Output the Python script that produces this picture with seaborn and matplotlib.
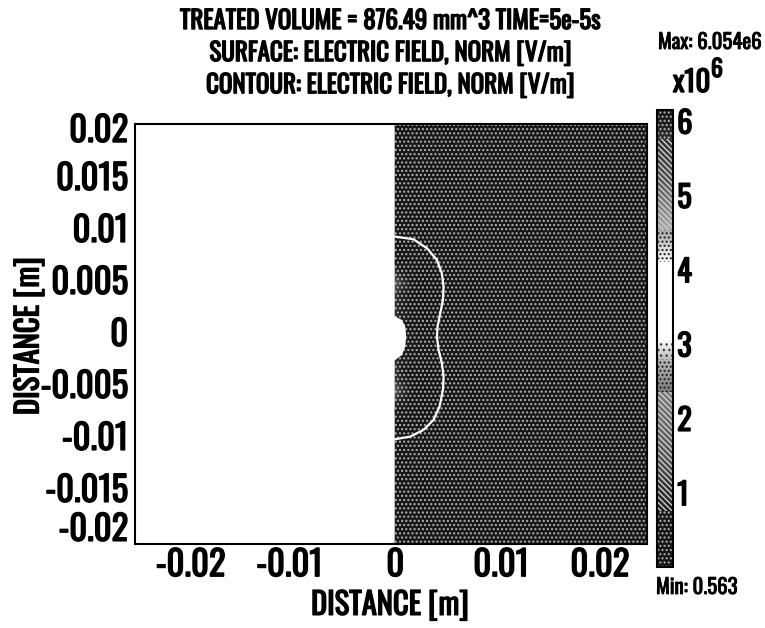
import numpy as np
import matplotlib
matplotlib.use("Agg")
import matplotlib.pyplot as plt
import matplotlib.patheffects as pe
import seaborn as sns
from matplotlib.colors import LinearSegmentedColormap, Normalize
from matplotlib.patches import Rectangle
from matplotlib.text import Text
from matplotlib.transforms import ScaledTranslation

sns.set_theme(style="white")
plt.rcParams['font.family'] = ['Oswald', 'Antonio', 'Roboto Condensed', 'DejaVu Sans']
plt.rcParams['font.weight'] = 'bold'
plt.rcParams['axes.labelweight'] = 'bold'
plt.rcParams['text.color'] = 'black'
plt.rcParams['axes.labelcolor'] = 'black'
plt.rcParams['xtick.color'] = 'black'
plt.rcParams['ytick.color'] = 'black'
plt.rcParams['hatch.linewidth'] = 1.0

### data
# electric field norm [x10^6 V/m] on a coarse r-z grid (only r >= 0 is modelled)
r_nodes = [0.0, 0.0006, 0.0014, 0.003, 0.0238]
z_nodes = [-0.0204, -0.0075, -0.0064, -0.0056, -0.0048, -0.0006,
           0.0039, 0.0047, 0.0055, 0.0066, 0.0200]
field = [
    [0.60, 0.60, 0.60, 0.60, 0.60],
    [0.60, 0.60, 0.60, 0.60, 0.60],
    [1.20, 0.90, 0.65, 0.60, 0.60],
    [1.80, 1.20, 0.70, 0.60, 0.60],
    [1.20, 0.90, 0.65, 0.60, 0.60],
    [0.70, 0.65, 0.60, 0.60, 0.60],
    [1.20, 0.90, 0.65, 0.60, 0.60],
    [1.80, 1.20, 0.70, 0.60, 0.60],
    [1.20, 0.90, 0.65, 0.60, 0.60],
    [0.60, 0.60, 0.60, 0.60, 0.60],
    [0.60, 0.60, 0.60, 0.60, 0.60],
]

# treated-volume contour line
contour_r = [0.0, 0.00173, 0.0030, 0.00394, 0.00441, 0.00457, 0.00451, 0.00426,
             0.0040, 0.00394, 0.0041, 0.00441, 0.00457, 0.00451, 0.00419,
             0.00362, 0.00268, 0.00142, 0.0]
contour_z = [0.00917, 0.00891, 0.00805, 0.00692, 0.00564, 0.00436, 0.00308, 0.0018,
             0.00051, -0.00045, -0.00173, -0.00301, -0.0043, -0.00558, -0.00718,
             -0.00846, -0.00942, -0.01007, -0.01032]

# electrode tip (no field inside)
electrode_r = [-0.0005, 0.0, 0.00063, 0.00095, 0.00104, 0.00095, 0.00063, 0.0, -0.0005]
electrode_z = [0.00147, 0.00147, 0.00115, 0.00051, -0.00045, -0.00141, -0.00221, -0.00269, -0.00269]

x_ticks = [-0.02, -0.01, 0, 0.01, 0.02]
x_tick_labels = ['-0.02', '-0.01', '0', '0.01', '0.02']
y_ticks = [0.02, 0.015, 0.01, 0.005, 0, -0.005, -0.01, -0.015, -0.02]
y_tick_labels = ['0.02', '0.015', '0.01', '0.005', '0', '-0.005', '-0.01', '-0.015', '-0.02']
cbar_ticks = [1, 2, 3, 4, 5, 6]
cbar_tick_labels = ['1', '2', '3', '4', '5', '6']

title = ("TREATED VOLUME = 876.49 mm^3 TIME=5e-5s\n"
         "SURFACE: ELECTRIC FIELD, NORM [V/m]\n"
         "CONTOUR: ELECTRIC FIELD, NORM [V/m]")

### halftone-like grey scale
cbar_lo, cbar_hi = 0.0, 6.15
cmap_nodes = [0.0, 0.75, 1.5, 2.35, 2.8, 3.06, 4.1, 4.54, 5.2, 5.76, 6.15]
cmap_greys = ['#121212', '#1a1a1a', '#555555', '#7a7a7a', '#bbbbbb', '#ffffff',
              '#ffffff', '#aaaaaa', '#555555', '#303030', '#121212']
cmap = LinearSegmentedColormap.from_list(
    'halftone', [((v - cbar_lo) / (cbar_hi - cbar_lo), c) for v, c in zip(cmap_nodes, cmap_greys)])
norm = Normalize(cbar_lo, cbar_hi)

# texture bands of the colour bar: (low, high, hatch, hatch colour)
cbar_bands = [(0.0, 0.75, '....', '#b0b0b0'), (0.75, 2.35, '\\\\\\\\\\\\', '#d0d0d0'),
              (2.35, 2.8, '....', '#202020'), (2.8, 3.06, '...', '#404040'),
              (4.1, 4.54, '....', '#202020'), (4.54, 5.76, '\\\\\\\\\\\\', '#d0d0d0'),
              (5.76, 6.15, '....', '#b0b0b0')]

fig = plt.figure(figsize=(7.65, 6.28), dpi=100)
ax = fig.add_axes([135 / 765, 1 - 544 / 628, 512 / 765, 420 / 628])
cax = fig.add_axes([657 / 765, 1 - 567 / 628, 16 / 765, 457 / 628])

x_lim = (-0.0246, 0.0238)
y_lim = (-0.0204, 0.0200)

R, Z = np.meshgrid(r_nodes, z_nodes)
mesh = ax.pcolormesh(R, Z, np.array(field), shading='gouraud', cmap=cmap, norm=norm, zorder=1)
ax.add_patch(Rectangle((0, y_lim[0]), x_lim[1], y_lim[1] - y_lim[0], facecolor='none',
                       edgecolor='#b4b4b4', lw=0, hatch='....', zorder=2))
ax.fill(electrode_r, electrode_z, color='white', lw=0, zorder=3)
sns.lineplot(x=contour_r, y=contour_z, sort=False, estimator=None, color='white',
             lw=1.6, ax=ax, zorder=4)

ax.set_xlim(*x_lim)
ax.set_ylim(*y_lim)
ax.set_xticks(x_ticks, x_tick_labels)
ax.set_yticks(y_ticks, y_tick_labels)
ax.tick_params(axis='both', length=0, labelsize=25)
ax.tick_params(axis='x', pad=3)
ax.tick_params(axis='y', pad=5)
for s in ax.spines.values():
    s.set_color('black')
    s.set_linewidth(1.5)

# end labels sit a little inside the frame, as in the original
def nudge(label, dx_px, dy_px):
    label.set_transform(label.get_transform() + ScaledTranslation(dx_px / 100, dy_px / 100, fig.dpi_scale_trans))

xt = ax.xaxis.get_major_ticks()
yt = ax.yaxis.get_major_ticks()
nudge(xt[0].label1, 7, 0)
nudge(xt[-1].label1, -7, 0)
nudge(yt[0].label1, 0, -4)
nudge(yt[-1].label1, 0, 13)

ax.set_xlabel('DISTANCE [m]', fontsize=22)
ax.set_ylabel('DISTANCE [m]', fontsize=22)
ax.xaxis.label.set_va('center')
ax.yaxis.label.set_va('center')
ax.xaxis.set_label_coords(0.498, -0.146)
ax.yaxis.set_label_coords(-0.207, 0.495)

fig.text(391 / 765, 1 - 8 / 628, title, ha='center', va='top', fontsize=18, linespacing=1.29)

cbar = fig.colorbar(mesh, cax=cax, ticks=cbar_ticks)
cbar.set_ticklabels(cbar_tick_labels)
cax.tick_params(length=0, labelsize=22, pad=3)
cbar.outline.set_linewidth(1.5)
cbar.outline.set_edgecolor('black')
for lo, hi, h, hc in cbar_bands:
    cax.axhspan(lo, hi, facecolor='none', edgecolor=hc, lw=0, hatch=h)

fig.text(658 / 765, 1 - 42 / 628, 'Max: 6.054e6', ha='left', va='center', fontsize=15)
fig.text(673 / 765, 1 - 92 / 628, 'x10', ha='left', va='baseline', fontsize=21)
fig.text(711 / 765, 1 - 77 / 628, '6', ha='left', va='baseline', fontsize=17)
fig.text(656 / 765, 1 - 587 / 628, 'Min: 0.563', ha='left', va='center', fontsize=15)

# heavier strokes for the condensed face
for t in fig.findobj(Text):
    lw = 0.6 if t.get_fontsize() < 17 else 1.0
    t.set_path_effects([pe.withStroke(linewidth=lw, foreground='black')])

plt.savefig("out.png", dpi=100)
